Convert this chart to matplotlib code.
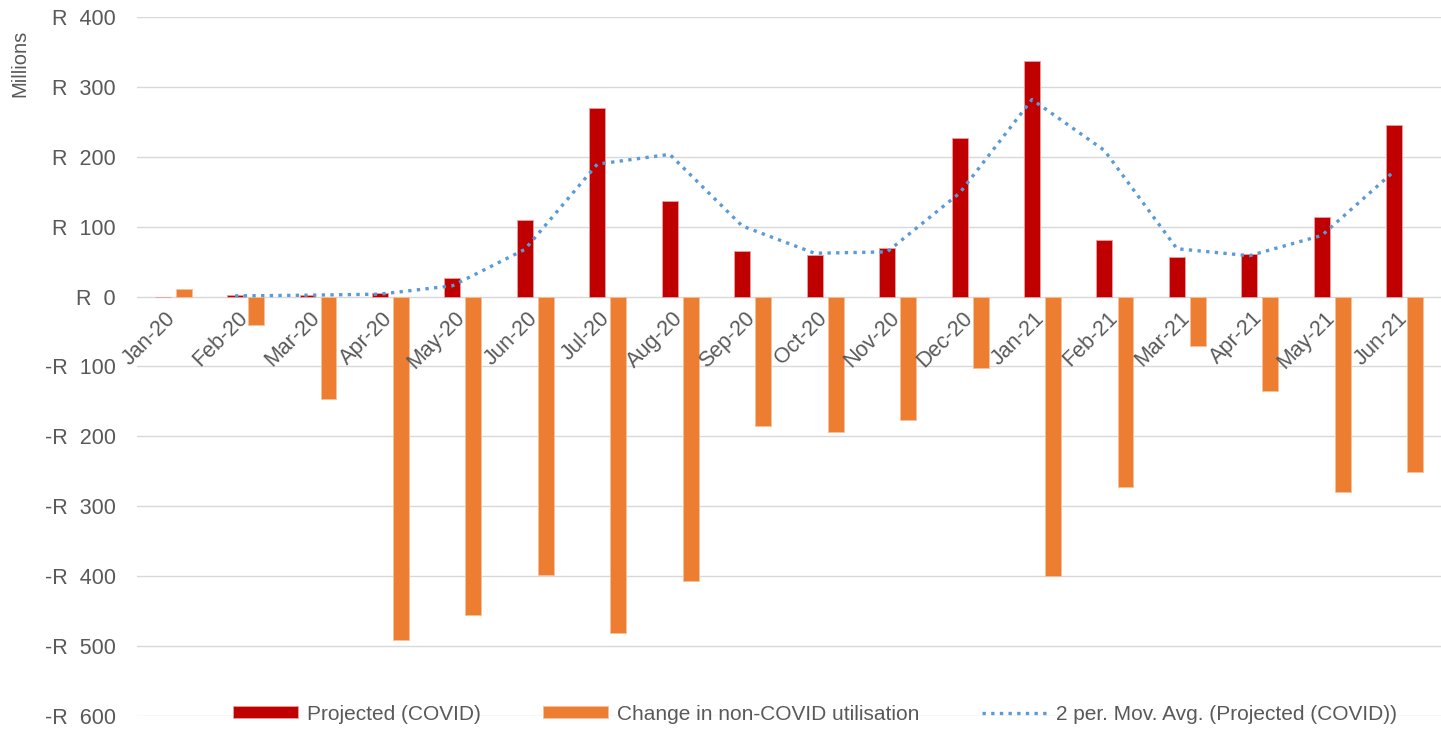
import matplotlib.pyplot as plt
import numpy as np
import pandas as pd
from matplotlib.ticker import FuncFormatter

months = ["Jan-20", "Feb-20", "Mar-20", "Apr-20", "May-20", "Jun-20",
          "Jul-20", "Aug-20", "Sep-20", "Oct-20", "Nov-20", "Dec-20",
          "Jan-21", "Feb-21", "Mar-21", "Apr-21", "May-21", "Jun-21"]
projected_covid = [0, 2, 2, 5, 26, 109, 270, 137, 65, 59, 69, 227,
                   337, 81, 56, 61, 114, 245]
non_covid_change = [11, -41, -147, -492, -455, -398, -481, -407, -185, -194,
                    -176, -102, -400, -273, -70, -135, -280, -251]

GREY = "#595959"
plt.rcParams["font.family"] = ["Liberation Sans", "DejaVu Sans"]


def rand_format(value, pos):
    if value < 0:
        return f"-R  {abs(value):.0f}"
    return f"R  {value:.0f}"


def plot_chart():
    fig = plt.figure(figsize=(14.41, 7.30), dpi=100)
    ax = fig.add_axes([0.095, 0.0192, 0.905, 0.9575])

    x = np.arange(len(months))
    width = 0.22
    offset = 0.145

    bars_red = ax.bar(x - offset, projected_covid, width, color="#C00000",
                      edgecolor="#E8A0A0", linewidth=0.6,
                      label="Projected (COVID)", zorder=3)
    bars_orange = ax.bar(x + offset, non_covid_change, width, color="#ED7D31",
                         edgecolor="#F6C09A", linewidth=0.6,
                         label="Change in non-COVID utilisation", zorder=3)

    # 2 period moving average trendline of the projected series
    mov_avg = pd.Series(projected_covid).rolling(2).mean()
    trend, = ax.plot(x - offset, mov_avg, color="#5B9BD5", linestyle=(0, (1, 1.6)),
                     linewidth=2.4, label="2 per. Mov. Avg. (Projected (COVID))",
                     zorder=4)

    ax.set_xlim(-0.5, len(months) - 0.5)
    ax.set_ylim(-600, 400)
    ax.set_yticks(np.arange(-600, 401, 100))
    ax.yaxis.set_major_formatter(FuncFormatter(rand_format))
    ax.grid(axis="y", color="#D9D9D9", linewidth=1.0, zorder=0)
    ax.set_axisbelow(True)
    for spine in ax.spines.values():
        spine.set_visible(False)
    ax.tick_params(axis="y", length=0, pad=15, labelsize=15.5, labelcolor=GREY)
    ax.set_xticks([])

    # category labels sit just under the zero line, rotated 45 degrees
    for i, label in enumerate(months):
        ax.annotate(label, xy=(i, 0), xytext=(-6, -8), textcoords="offset points",
                    rotation=45, rotation_mode="anchor", ha="right", va="top",
                    fontsize=15.5, color=GREY, zorder=5)

    fig.text(0.0135, 0.913, "Millions", rotation=90, ha="center", va="center",
             fontsize=14.5, color=GREY)

    legend = ax.legend(handles=[bars_red, bars_orange, trend],
                       loc="lower center", bbox_to_anchor=(0.52, -0.038), ncol=3,
                       frameon=False, handlelength=3.1, handleheight=0.5,
                       handletextpad=0.45, columnspacing=3.0,
                       prop={"size": 15})
    for text in legend.get_texts():
        text.set_color(GREY)

    fig.savefig("out.png", dpi=100)


if __name__ == "__main__":
    plot_chart()
